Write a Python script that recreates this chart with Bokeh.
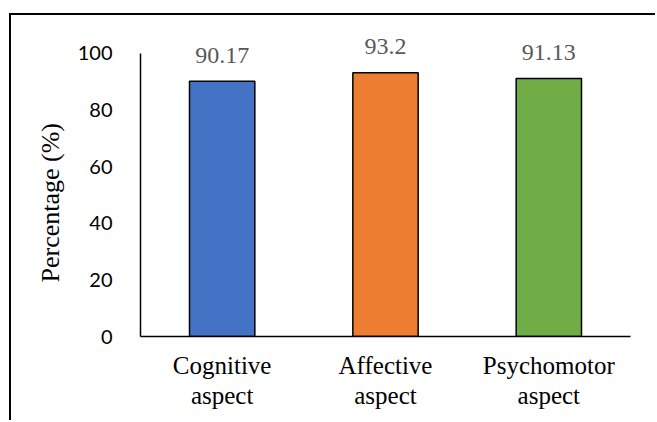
from bokeh.plotting import figure
from bokeh.models import Range1d, ColumnDataSource, LinearAxis, FixedTicker, Title
from bokeh.core.properties import value
from bokeh.embed import file_html
from bokeh.resources import INLINE

# Data
categories = ["Cognitive aspect", "Affective aspect", "Psychomotor aspect"]
name_line1 = ["Cognitive", "Affective", "Psychomotor"]
name_line2 = ["aspect", "aspect", "aspect"]
percentages = [90.17, 93.2, 91.13]
bar_colors = ["#4472C4", "#ED7D31", "#70AD47"]
y_ticks = [0, 20, 40, 60, 80, 100]

positions = list(range(len(categories)))

source = ColumnDataSource(dict(
    x=positions,
    cat=categories,
    pct=percentages,
    color=bar_colors,
    txt=[str(v) for v in percentages],
))

p = figure(
    width=646, height=407,
    x_range=Range1d(-0.5, len(categories) - 0.5),
    y_range=Range1d(0, 111.66),
    output_backend="svg", toolbar_location=None,
    min_border_left=129, min_border_right=27,
    min_border_top=5, min_border_bottom=86,
)
# outer chart frame (left and top edges visible in the window)
p.margin = (13, 0, 0, 9)
p.styles = {"border-left": "2px solid black", "border-top": "2px solid black"}

p.outline_line_color = None
p.background_fill_color = "white"
p.border_fill_color = "white"
p.xgrid.visible = False
p.ygrid.visible = False

p.vbar(x="x", top="pct", width=0.4, source=source,
       fill_color="color", line_color="black", line_width=1.5)

p.text(x="x", y="pct", text="txt", source=source,
       text_align="center", text_baseline="alphabetic", y_offset=-26,
       text_font=value("Liberation Serif"), text_font_size="24px",
       text_color="#595959")

# y axis
yax = p.yaxis[0]
yax.bounds = (0, 100)
yax.ticker = y_ticks
yax.major_tick_line_color = None
yax.minor_tick_line_color = None
yax.axis_line_color = "black"
yax.axis_line_width = 1.5
yax.major_label_text_font = "Lato"
yax.major_label_text_font_size = "20px"
yax.major_label_text_color = "black"
yax.major_label_standoff = 22

p.add_layout(Title(text="Percentage (%)", align="left",
                   text_font="Liberation Serif", text_font_size="26px",
                   text_font_style="normal", text_color="black",
                   standoff=20, offset=54), "left")

# x axis: first line of each category name
xax = p.xaxis[0]
xax.ticker = FixedTicker(ticks=positions)
xax.major_tick_line_color = None
xax.minor_tick_line_color = None
xax.axis_line_color = "black"
xax.axis_line_width = 1.5
xax.major_label_overrides = dict(zip(positions, name_line1))
xax.major_label_text_font = "Liberation Serif"
xax.major_label_text_font_size = "25px"
xax.major_label_text_color = "black"
xax.major_label_standoff = 9

# second line of each category name
xax2 = LinearAxis(
    ticker=FixedTicker(ticks=positions),
    axis_line_color=None, major_tick_line_color=None, minor_tick_line_color=None,
    major_label_overrides=dict(zip(positions, name_line2)),
    major_label_text_font="Liberation Serif", major_label_text_font_size="25px",
    major_label_text_color="black", major_label_standoff=-6,
)
p.add_layout(xax2, "below")

open("out.html", "w").write(file_html(p, INLINE))
